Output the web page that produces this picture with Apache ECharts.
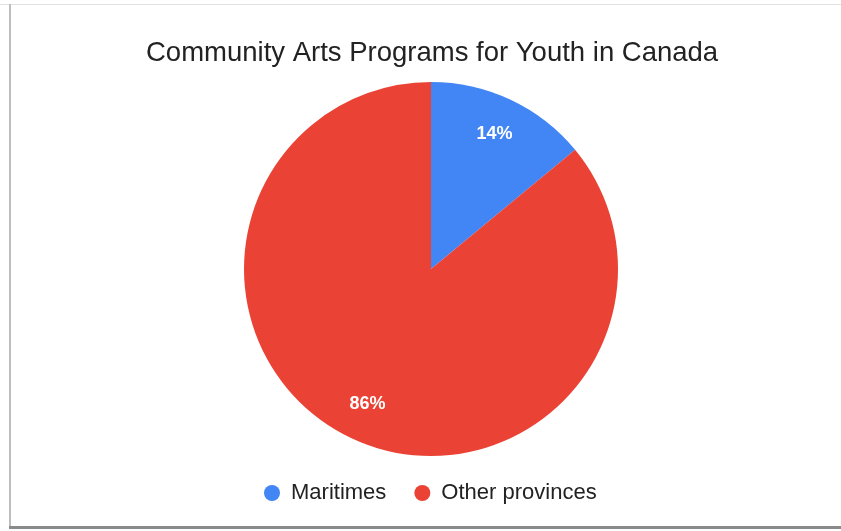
<!DOCTYPE html>
<html>
<head>
<meta charset="utf-8">
<script src="https://cdn.jsdelivr.net/npm/echarts@6/dist/echarts.min.js"></script>
<style>
  html, body { margin: 0; padding: 0; background: #fff; }
  #chart { width: 841px; height: 531px; }
</style>
</head>
<body>
<div id="chart"></div>
<script>
// Share of community arts programs for youth, by region
const categories = ['Maritimes', 'Other provinces'];
const shares = [14, 86];
const colors = ['#4285F4', '#EA4335'];

const data = categories.map((name, i) => ({ name, value: shares[i] }));

const chart = echarts.init(document.getElementById('chart'));
chart.setOption({
  animation: false,
  color: colors,
  title: {
    text: 'Community Arts Programs for Youth in Canada',
    left: 141,
    top: 34,
    textStyle: {
      fontFamily: 'Liberation Sans, Arial, sans-serif',
      fontSize: 27.5,
      fontWeight: 'normal',
      color: '#222'
    }
  },
  legend: {
    top: 477,
    left: 259,
    icon: 'circle',
    itemWidth: 16,
    itemHeight: 16,
    itemGap: 28,
    textStyle: {
      fontFamily: 'Liberation Sans, Arial, sans-serif',
      fontSize: 22,
      color: '#222',
      padding: [0, 0, 0, 6]
    },
    data: categories
  },
  graphic: [
    // thin frame around the chart card
    { type: 'rect', shape: { x: 0, y: 4, width: 841, height: 1 }, style: { fill: '#e2e2e2' } },
    { type: 'rect', shape: { x: 9, y: 4, width: 2, height: 524 }, style: { fill: '#bdbdbd' } },
    { type: 'rect', shape: { x: 9, y: 526, width: 832, height: 3 }, style: { fill: '#8a8a8a' } }
  ],
  series: [
    {
      type: 'pie',
      center: [431, 269],
      radius: [0, 187],
      startAngle: 90,
      clockwise: true,
      silent: true,
      data: data,
      label: { show: false },
      labelLine: { show: false }
    },
    {
      // percentage labels placed toward the rim
      type: 'pie',
      center: [431, 269],
      radius: [105, 187],
      startAngle: 90,
      clockwise: true,
      silent: true,
      data: data,
      itemStyle: { color: 'rgba(0,0,0,0)' },
      label: {
        show: true,
        position: 'inside',
        formatter: p => p.value + '%',
        color: '#fff',
        fontFamily: 'Liberation Sans, Arial, sans-serif',
        fontSize: 18,
        fontWeight: 'bold'
      },
      labelLine: { show: false }
    }
  ]
});
</script>
</body>
</html>
